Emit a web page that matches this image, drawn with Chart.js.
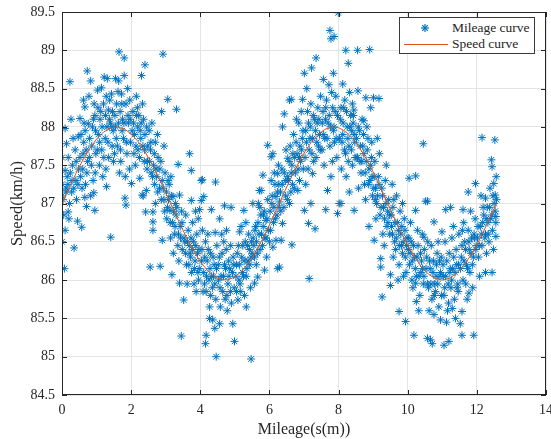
<!DOCTYPE html>
<html lang="en">
<head>
  <meta charset="UTF-8" />
  <title>Speed vs mileage</title>
  <script src="https://cdn.jsdelivr.net/npm/chart.js"></script>
  <style>
    * { box-sizing: border-box; margin: 0; padding: 0; }
    body { background: #fff; }
    .wrap { position: relative; width: 551px; height: 439px; }
    .legend {
      position: absolute;
      left: 399px; top: 17px;
      width: 136px; height: 37px;
      border: 1px solid #3a3a3a;
      background: #fff;
      font-family: "Liberation Serif", serif;
      font-size: 13.5px;
      color: #262626;
    }
    .legend .row { position: absolute; left: 0; height: 16px; display: flex; align-items: center; }
    .legend .row span { position: absolute; left: 52px; white-space: nowrap; }
    .legend svg { position: absolute; left: 4px; }
  </style>
</head>
<body>
  <div class="wrap">
    <canvas id="chart" width="551" height="439"></canvas>
    <div class="legend">
      <div class="row" style="top:2px">
        <svg width="46" height="16"><g stroke="#0072BD" stroke-width="1.2">
          <line x1="21" y1="4" x2="21" y2="12"/><line x1="17" y1="8" x2="25" y2="8"/>
          <line x1="18.2" y1="5.2" x2="23.8" y2="10.8"/><line x1="18.2" y1="10.8" x2="23.8" y2="5.2"/>
        </g></svg>
        <span>Mileage curve</span>
      </div>
      <div class="row" style="top:18px">
        <svg width="46" height="16"><line x1="0" y1="8.5" x2="44" y2="8.5" stroke="#D95319" stroke-width="1"/></svg>
        <span>Speed curve</span>
      </div>
    </div>
  </div>

  <script>
    // measured samples [mileage, speed]
    const samples = [
      [0.00,87.60],[0.00,87.25],[0.00,87.10],[0.00,86.50],[0.07,86.15],[0.09,87.98],[0.13,87.78],[0.18,87.60],[0.09,87.43],[0.28,87.15],
      [0.18,86.89],[0.09,86.65],[0.35,86.42],[0.23,88.59],[0.45,86.77],[0.47,87.87],[0.30,87.50],[0.40,87.30],[0.22,87.00],[0.15,87.35],
      [0.38,87.70],[0.05,86.85],[0.32,87.85],[0.42,87.05],[0.26,88.10],[0.12,87.20],[0.48,87.45],
      [0.03,87.05],[0.11,87.15],[0.17,87.25],[0.24,87.40],[0.29,87.30],[0.34,87.20],[0.41,87.55],[0.46,87.25],[0.20,86.80],
      [0.52,88.11],[0.62,88.35],[0.66,88.26],[0.73,88.73],[0.83,88.60],[0.76,88.04],[0.95,88.15],[0.52,87.60],[0.66,87.08],[0.71,86.96],
      [0.95,86.91],[0.92,87.14],[0.57,86.69],[0.55,87.90],[0.60,87.45],[0.70,87.70],[0.80,87.85],[0.85,87.50],[0.90,87.30],[0.68,87.25],
      [0.78,88.40],[0.88,88.00],[0.98,87.65],[0.58,87.20],[0.63,87.80],[0.74,87.55],[0.93,88.30],[0.83,87.10],[0.97,87.95],
      [0.54,87.35],[0.61,87.65],[0.67,87.95],[0.72,87.40],[0.79,87.60],[0.86,87.75],[0.91,88.10],[0.96,87.40],[0.64,88.05],
      [1.03,88.48],[1.14,88.51],[1.31,88.63],[1.43,88.43],[1.29,87.22],[1.41,86.56],[1.34,88.22],[1.05,87.90],[1.10,88.10],[1.15,87.70],
      [1.20,88.30],[1.25,87.85],[1.30,88.00],[1.35,87.60],[1.40,88.05],[1.45,87.75],[1.08,87.50],[1.18,87.35],[1.22,88.65],[1.38,88.35],
      [1.48,87.95],[1.12,88.20],[1.27,87.45],[1.46,88.20],[1.02,87.70],
      [1.04,88.25],[1.09,87.80],[1.16,88.00],[1.21,87.60],[1.26,88.15],[1.33,87.80],[1.37,88.10],[1.44,88.00],[1.49,87.55],[1.28,88.40],
      [1.55,88.63],[1.62,88.46],[1.65,88.98],[1.72,88.43],[1.80,88.90],[1.80,88.67],[1.96,88.35],[1.82,87.07],[1.85,86.98],[1.55,88.00],
      [1.60,87.75],[1.68,88.20],[1.70,87.55],[1.75,88.10],[1.78,87.85],[1.85,88.30],[1.88,87.65],[1.92,88.05],[1.95,87.45],[1.98,87.80],
      [1.58,88.30],[1.66,87.40],[1.74,87.95],[1.90,88.50],[1.52,87.65],[1.83,87.35],
      [1.53,88.15],[1.57,87.85],[1.63,88.05],[1.69,87.70],[1.73,88.30],[1.79,88.05],[1.86,87.80],[1.91,88.15],[1.97,88.10],[1.64,88.60],
      [2.01,87.26],[2.25,87.33],[2.32,87.11],[2.30,88.67],[2.40,88.81],[2.44,87.17],[2.35,87.10],[2.42,86.89],[2.05,88.20],[2.10,87.90],
      [2.15,88.40],[2.20,87.70],[2.22,88.15],[2.28,87.85],[2.33,88.30],[2.38,87.55],[2.45,88.00],[2.48,87.75],[2.12,87.50],[2.18,88.25],
      [2.26,87.95],[2.36,88.10],[2.08,87.65],[2.46,87.45],[2.40,87.90],
      [2.03,87.95],[2.07,88.05],[2.14,87.75],[2.19,88.00],[2.24,87.60],[2.29,88.05],[2.34,87.75],[2.39,87.70],[2.47,87.55],[2.16,88.15],
      [2.92,88.95],[2.88,88.20],[2.63,86.89],[2.63,86.76],[2.63,86.65],[2.90,86.52],[2.55,86.17],[2.84,86.18],[2.52,87.95],[2.56,87.70],
      [2.60,88.05],[2.65,87.50],[2.70,87.80],[2.74,87.35],[2.78,87.60],[2.82,87.20],[2.86,87.55],[2.90,87.30],[2.95,87.05],[2.98,87.40],
      [2.58,87.40],[2.68,87.25],[2.76,87.90],[2.95,87.75],[2.70,87.00],
      [2.53,87.55],[2.57,87.80],[2.62,87.35],[2.67,87.65],[2.72,87.45],[2.77,87.15],[2.83,87.45],[2.87,87.05],[2.93,87.20],[2.97,86.90],
      [3.06,88.36],[3.31,88.23],[3.07,87.30],[3.36,87.51],[3.21,87.09],[3.12,86.91],[3.40,87.11],[3.18,86.07],[3.40,85.96],[3.45,85.27],
      [3.02,87.15],[3.05,86.95],[3.10,87.25],[3.15,87.35],[3.20,86.75],[3.25,86.60],[3.30,86.85],[3.35,86.45],[3.42,86.70],[3.48,86.40],
      [3.14,86.55],[3.28,87.00],[3.38,86.25],[3.46,86.90],[3.22,86.35],
      [3.03,86.80],[3.08,87.05],[3.13,86.75],[3.17,87.10],[3.23,86.90],[3.27,86.70],[3.32,86.95],[3.37,86.60],[3.43,86.55],[3.47,86.75],
      [3.52,85.74],[3.69,87.65],[3.74,87.43],[3.74,87.04],[3.98,86.92],[3.94,86.80],[3.88,85.85],[3.55,86.50],[3.60,86.20],[3.65,86.65],
      [3.70,86.35],[3.75,86.10],[3.80,86.50],[3.85,86.25],[3.90,86.60],[3.95,86.00],[3.58,86.85],[3.62,85.95],[3.68,86.45],[3.78,86.75],
      [3.82,85.95],[3.92,86.35],[3.97,86.15],[3.86,86.90],[3.72,86.30],
      [3.53,86.55],[3.57,86.35],[3.63,86.50],[3.67,86.20],[3.73,86.55],[3.77,86.40],[3.83,86.15],[3.87,86.45],[3.93,86.10],[3.96,86.40],
      [4.03,87.30],[4.06,87.31],[4.03,87.04],[4.10,87.09],[4.32,86.92],[4.44,87.28],[4.17,85.85],[4.27,85.65],[4.27,85.50],[4.42,85.37],
      [4.15,85.17],[4.46,85.00],[4.36,85.48],[4.17,85.28],[4.06,86.65],[4.43,86.62],[4.05,86.40],[4.10,86.10],[4.15,86.50],[4.20,86.25],
      [4.25,86.00],[4.30,86.35],[4.35,85.90],[4.40,86.20],[4.45,85.75],[4.48,86.45],[4.12,85.95],[4.22,86.60],[4.38,86.05],[4.30,85.80],
      [4.04,86.25],[4.08,85.85],[4.13,86.30],[4.18,86.05],[4.23,86.40],[4.28,86.15],[4.33,86.05],[4.37,86.30],[4.42,85.95],[4.47,86.15],
      [4.56,86.80],[4.70,86.97],[4.89,86.95],[4.76,86.65],[4.56,85.43],[4.94,85.43],[4.99,85.20],[4.55,86.30],[4.60,86.05],[4.65,85.85],
      [4.70,86.20],[4.75,86.40],[4.80,85.95],[4.85,86.15],[4.90,85.70],[4.95,86.30],[4.58,85.65],[4.68,86.50],[4.78,85.60],[4.88,86.45],
      [4.62,86.60],[4.72,85.75],[4.82,86.25],[4.98,85.90],[4.53,86.00],
      [4.52,86.20],[4.57,85.90],[4.63,86.35],[4.67,86.05],[4.73,86.15],[4.77,85.80],[4.83,86.05],[4.87,85.85],[4.93,86.10],[4.97,86.20],
      [5.14,86.63],[5.26,86.91],[5.09,85.74],[5.33,85.65],[5.47,84.97],[5.05,86.20],[5.10,86.45],[5.15,85.95],[5.20,86.30],[5.25,86.05],
      [5.30,86.50],[5.35,86.15],[5.40,86.60],[5.45,85.90],[5.50,86.35],[5.05,85.85],[5.18,86.70],[5.28,85.80],[5.38,86.25],[5.48,86.50],
      [5.22,86.10],[5.42,86.40],[5.12,86.00],[5.32,86.75],
      [5.03,86.05],[5.07,86.35],[5.13,86.20],[5.17,85.85],[5.23,86.45],[5.27,86.25],[5.33,86.05],[5.37,86.45],[5.43,86.20],[5.47,86.30],
      [5.52,87.00],[5.71,87.17],[5.76,87.17],[5.81,87.37],[5.95,87.76],[5.90,86.78],[6.00,86.50],[5.66,86.04],[5.86,86.13],[5.57,85.96],
      [5.55,86.45],[5.60,86.70],[5.65,86.35],[5.70,86.60],[5.75,86.85],[5.80,86.45],[5.85,86.90],[5.90,86.55],[5.95,87.05],[5.62,86.20],
      [5.72,86.95],[5.82,86.70],[5.92,86.30],[5.58,86.65],[5.68,87.00],
      [5.53,86.55],[5.57,86.30],[5.63,86.50],[5.67,86.75],[5.73,86.40],[5.77,86.60],[5.83,86.85],[5.87,86.55],[5.93,86.80],[5.97,86.65],
      [6.05,87.61],[6.38,88.00],[6.43,88.17],[6.24,87.39],[6.29,87.02],[6.29,86.17],[6.19,86.52],[6.10,87.65],[6.05,87.30],[6.19,87.09],
      [6.38,86.74],[6.34,86.52],[6.10,86.43],[6.24,86.15],[6.02,86.90],[6.08,87.10],[6.12,86.75],[6.16,87.25],[6.22,86.85],[6.26,87.50],
      [6.32,87.15],[6.36,87.45],[6.42,86.95],[6.46,87.30],[6.48,87.70],[6.28,86.95],[6.14,87.40],
      [6.03,86.65],[6.07,87.00],[6.13,86.95],[6.17,86.80],[6.23,87.15],[6.27,87.25],[6.33,86.90],[6.37,87.25],[6.43,87.40],[6.47,87.10],
      [6.58,88.35],[6.53,87.59],[6.63,88.36],[6.96,88.36],[6.58,87.00],[6.65,86.46],[6.87,87.30],[6.82,87.17],[6.55,87.30],[6.60,87.75],
      [6.65,87.50],[6.70,87.90],[6.75,87.40],[6.80,87.65],[6.85,88.05],[6.90,87.55],[6.95,87.85],[6.52,87.05],[6.62,87.15],[6.72,87.20],
      [6.78,88.10],[6.88,87.75],[6.98,87.45],[6.68,87.65],[6.92,88.20],
      [6.53,87.35],[6.57,87.55],[6.63,87.40],[6.67,87.25],[6.73,87.60],[6.77,87.80],[6.83,87.45],[6.87,87.60],[6.93,87.70],[6.97,87.95],
      [7.01,88.70],[7.08,88.50],[7.35,88.90],[7.22,88.77],[7.15,86.02],[7.13,86.74],[7.32,86.67],[7.01,86.91],[7.20,87.00],[7.25,87.39],
      [7.05,87.95],[7.10,88.20],[7.15,87.70],[7.20,88.30],[7.25,87.85],[7.30,88.10],[7.35,87.60],[7.40,88.25],[7.45,87.90],[7.48,88.40],
      [7.12,87.45],[7.28,87.55],[7.38,88.05],[7.42,87.75],[7.18,88.00],[7.05,87.25],
      [7.03,87.60],[7.07,87.80],[7.13,88.05],[7.17,87.85],[7.23,87.65],[7.27,88.15],[7.33,87.95],[7.37,87.80],[7.43,88.10],[7.47,87.70],
      [7.56,88.62],[7.85,88.70],[7.75,89.26],[7.78,89.15],[7.87,89.18],[7.99,89.49],[7.63,86.92],[7.97,86.87],[7.68,87.17],[7.78,87.35],
      [7.55,88.20],[7.60,87.85],[7.65,88.35],[7.70,88.05],[7.75,87.75],[7.80,88.45],[7.85,87.95],[7.90,88.20],[7.95,87.60],[7.58,87.50],
      [7.72,88.55],[7.82,87.55],[7.92,88.40],[7.62,88.10],[7.88,87.80],[7.52,87.70],
      [7.53,88.05],[7.57,87.90],[7.63,88.25],[7.67,87.85],[7.73,88.15],[7.77,88.00],[7.83,88.25],[7.87,88.00],[7.93,87.85],[7.97,88.15],
      [8.21,89.00],[8.28,88.83],[8.12,88.56],[8.02,87.00],[8.45,86.91],[8.31,87.15],[8.07,87.00],[8.44,88.22],[8.40,88.30],[8.05,88.10],
      [8.10,87.80],[8.15,88.25],[8.20,87.65],[8.25,88.00],[8.30,87.75],[8.35,88.15],[8.40,87.50],[8.45,87.90],[8.48,87.60],[8.08,87.45],
      [8.18,88.35],[8.22,87.35],[8.32,88.45],[8.38,87.95],[8.12,87.90],[8.28,87.55],[8.42,88.05],
      [8.03,87.85],[8.07,88.25],[8.13,88.05],[8.17,87.70],[8.23,88.20],[8.27,87.85],[8.33,88.00],[8.37,87.70],[8.43,88.15],[8.47,87.80],
      [8.55,89.00],[8.90,89.01],[8.56,88.47],[8.79,88.38],[8.93,88.25],[8.73,88.08],[8.88,86.70],[8.52,87.85],[8.55,87.60],[8.60,87.95],
      [8.65,87.40],[8.70,87.75],[8.75,87.25],[8.80,87.55],[8.85,87.85],[8.90,87.30],[8.95,87.60],[8.98,87.10],[8.58,87.20],[8.68,88.10],
      [8.78,87.05],[8.88,87.45],[8.62,87.55],[8.72,87.90],[8.82,88.00],[8.96,87.80],
      [8.53,87.60],[8.57,88.00],[8.63,87.75],[8.67,87.55],[8.73,87.65],[8.77,87.40],[8.83,87.70],[8.87,87.25],[8.93,87.50],[8.97,87.35],
      [9.01,88.38],[9.17,88.37],[9.03,86.52],[9.22,86.28],[9.22,86.17],[9.26,85.78],[9.02,87.20],[9.05,87.55],[9.10,87.00],[9.15,87.35],
      [9.20,86.85],[9.25,87.20],[9.30,86.95],[9.35,87.30],[9.40,86.70],[9.45,87.05],[9.48,86.60],[9.08,86.80],[9.18,87.65],[9.28,86.60],
      [9.38,87.50],[9.12,87.85],[9.32,86.45],[9.42,86.90],[9.06,87.05],
      [9.03,87.35],[9.07,87.20],[9.13,87.10],[9.17,87.25],[9.23,86.95],[9.27,87.10],[9.33,86.80],[9.37,87.00],[9.43,86.75],[9.47,86.85],
      [9.50,86.07],[9.50,85.93],[9.75,85.59],[9.94,85.46],[9.52,86.85],[9.56,86.60],[9.60,87.05],[9.65,86.40],[9.70,86.75],[9.75,86.20],
      [9.80,86.60],[9.85,86.35],[9.90,86.80],[9.95,86.10],[9.98,86.55],[9.58,86.30],[9.68,87.10],[9.78,86.90],[9.88,86.05],[9.62,86.50],
      [9.72,86.00],[9.82,86.45],[9.92,86.65],[9.55,87.25],[9.85,87.00],
      [9.53,86.70],[9.57,86.95],[9.63,86.75],[9.67,86.55],[9.73,86.65],[9.77,86.45],[9.83,86.70],[9.87,86.50],[9.93,86.30],[9.97,86.45],
      [10.04,87.33],[10.23,87.36],[10.45,87.78],[10.23,86.91],[10.47,86.56],[10.18,85.28],[10.25,85.72],[10.23,85.96],[10.05,86.20],[10.10,86.50],
      [10.15,85.90],[10.20,86.30],[10.25,86.05],[10.30,86.45],[10.35,85.80],[10.40,86.25],[10.45,85.95],[10.48,86.40],[10.08,86.75],[10.28,86.65],
      [10.38,86.10],[10.12,86.00],[10.32,85.60],[10.42,86.60],[10.02,86.40],
      [10.03,86.55],[10.07,86.35],[10.13,86.25],[10.17,86.45],[10.22,86.15],[10.27,86.30],[10.33,86.05],[10.37,86.35],[10.43,86.15],[10.47,86.05],
      [10.52,87.03],[10.57,87.03],[10.57,85.24],[10.76,86.76],[10.66,85.22],[10.71,85.17],[10.95,85.48],[10.76,85.55],[10.99,86.63],[10.55,86.30],
      [10.60,85.90],[10.65,86.15],[10.70,85.75],[10.75,86.25],[10.80,85.85],[10.85,86.35],[10.90,85.65],[10.95,86.10],[10.58,86.50],[10.68,86.45],
      [10.78,85.95],[10.88,86.50],[10.98,85.80],[10.62,85.60],[10.82,86.05],[10.92,86.25],
      [10.53,86.15],[10.57,85.95],[10.63,86.25],[10.67,85.95],[10.73,86.10],[10.77,85.80],[10.83,86.20],[10.87,85.95],[10.93,86.05],[10.97,86.30],
      [11.10,86.92],[11.24,86.95],[11.05,85.15],[11.19,85.20],[11.29,85.63],[11.02,86.20],[11.05,85.80],[11.10,86.05],[11.15,85.60],[11.20,86.35],
      [11.25,85.90],[11.30,86.15],[11.35,85.75],[11.40,86.40],[11.45,85.95],[11.48,86.60],[11.08,86.50],[11.18,85.70],[11.28,86.55],[11.38,85.50],
      [11.12,85.45],[11.32,86.70],[11.42,86.20],[11.22,86.10],[11.46,85.85],
      [11.03,86.05],[11.07,85.90],[11.13,86.25],[11.17,85.95],[11.23,86.15],[11.27,86.00],[11.33,86.30],[11.37,86.10],[11.43,85.90],[11.47,86.20],
      [11.57,85.28],[11.91,85.28],[11.52,85.43],[11.57,85.59],[11.77,85.83],[11.75,87.15],[11.96,87.26],[11.60,86.92],[11.55,86.30],[11.60,86.00],
      [11.65,86.50],[11.70,86.20],[11.75,86.65],[11.80,86.10],[11.85,86.55],[11.90,86.30],[11.95,86.80],[11.58,86.65],[11.68,85.95],[11.78,86.40],
      [11.88,85.90],[11.98,86.45],[11.62,86.75],[11.82,86.90],[11.72,85.75],[11.92,86.60],
      [11.53,86.15],[11.57,86.45],[11.63,86.25],[11.67,86.40],[11.73,86.15],[11.77,86.50],[11.83,86.35],[11.87,86.20],[11.93,86.55],[11.97,86.40],
      [12.15,87.86],[12.52,87.83],[12.42,87.57],[12.44,87.48],[12.49,87.26],[12.55,86.83],[12.25,87.07],[12.53,87.11],[12.25,86.10],[12.44,86.10],
      [12.55,86.57],[12.02,86.55],[12.05,86.30],[12.10,86.70],[12.15,86.45],[12.20,86.85],[12.25,86.60],[12.30,86.95],[12.35,86.50],[12.40,86.80],
      [12.45,86.65],[12.50,87.00],[12.55,86.75],[12.08,86.05],[12.18,86.95],[12.28,86.35],[12.38,87.20],[12.48,86.40],[12.12,87.10],[12.32,86.75],
      [12.56,87.35],
      [12.03,86.70],[12.07,86.45],[12.13,86.60],[12.17,86.75],[12.23,86.55],[12.27,86.80],[12.33,86.60],[12.37,86.95],[12.43,86.85],[12.47,87.10],
      [12.53,86.90],[12.57,87.05]
    ];

    // fitted speed curve
    const curveMileage = [0, 0.2, 0.4, 0.6, 0.8, 1.0, 1.2, 1.4, 1.6, 1.8, 2.0, 2.2, 2.4, 2.6, 2.8, 3.0, 3.2, 3.4, 3.6, 3.8,
      4.0, 4.2, 4.4, 4.6, 4.8, 5.0, 5.2, 5.4, 5.6, 5.8, 6.0, 6.2, 6.4, 6.6, 6.8, 7.0, 7.2, 7.4, 7.6, 7.8,
      8.0, 8.2, 8.4, 8.6, 8.8, 9.0, 9.2, 9.4, 9.6, 9.8, 10.0, 10.2, 10.4, 10.6, 10.8, 11.0, 11.2, 11.4, 11.6, 11.8,
      12.0, 12.2, 12.4, 12.57];
    const curveSpeed = [87.000, 87.199, 87.389, 87.565, 87.717, 87.841, 87.932, 87.985, 88.000, 87.974,
      87.909, 87.809, 87.676, 87.516, 87.335, 87.141, 86.942, 86.745, 86.558, 86.388,
      86.243, 86.128, 86.048, 86.006, 86.004, 86.041, 86.117, 86.227, 86.369, 86.535,
      86.721, 86.917, 87.117, 87.312, 87.494, 87.657, 87.794, 87.899, 87.968, 87.999,
      87.989, 87.941, 87.855, 87.734, 87.585, 87.412, 87.223, 87.025, 86.826, 86.634,
      86.456, 86.300, 86.172, 86.077, 86.019, 86.000, 86.021, 86.081, 86.177, 86.307,
      86.463, 86.642, 86.834, 87.000];

    const xTicks = [0, 2, 4, 6, 8, 10, 12, 14];
    const yTicks = [84.5, 85, 85.5, 86, 86.5, 87, 87.5, 88, 88.5, 89, 89.5];

    const axisColor = '#262626';
    const serif = '"Liberation Serif", "Times New Roman", serif';

    // box round the axes + inward tick marks (matlab look)
    const frame = {
      id: 'frame',
      afterDatasetsDraw(chart) {
        const { ctx, chartArea: a, scales: { x, y } } = chart;
        ctx.save();
        ctx.strokeStyle = axisColor;
        ctx.lineWidth = 1;
        ctx.beginPath();
        x.ticks.forEach(t => {
          const px = Math.round(x.getPixelForValue(t.value)) + 0.5;
          ctx.moveTo(px, a.bottom); ctx.lineTo(px, a.bottom - 5);
          ctx.moveTo(px, a.top); ctx.lineTo(px, a.top + 5);
        });
        y.ticks.forEach(t => {
          const py = Math.round(y.getPixelForValue(t.value)) + 0.5;
          ctx.moveTo(a.left, py); ctx.lineTo(a.left + 5, py);
          ctx.moveTo(a.right, py); ctx.lineTo(a.right - 5, py);
        });
        ctx.stroke();
        ctx.strokeRect(Math.round(a.left) + 0.5, Math.round(a.top) + 0.5,
          Math.round(a.width) - 1, Math.round(a.height) - 1);
        ctx.restore();
      }
    };

    new Chart(document.getElementById('chart'), {
      type: 'scatter',
      data: {
        datasets: [{
          label: 'Speed curve',
          type: 'line',
          data: curveMileage.map((m, i) => ({ x: m, y: curveSpeed[i] })),
          borderColor: '#D95319',
          borderWidth: 1,
          pointRadius: 0,
          tension: 0,
          fill: false,
          order: 0
        }, {
          label: 'Mileage curve',
          data: samples.map(p => ({ x: p[0], y: p[1] })),
          pointStyle: 'star',
          pointRadius: 4,
          borderColor: '#0072BD',
          backgroundColor: '#0072BD',
          pointBorderWidth: 1,
          order: 1
        }]
      },
      options: {
        responsive: false,
        animation: false,
        layout: { padding: { top: 12, right: 4, left: 0, bottom: 0 } },
        plugins: { legend: { display: false }, tooltip: { enabled: false } },
        scales: {
          x: {
            type: 'linear',
            min: 0, max: 14,
            afterBuildTicks: s => { s.ticks = xTicks.map(v => ({ value: v })); },
            afterFit: s => { s.height = 44; s.paddingLeft = 0; s.paddingRight = 0; },
            grid: { color: '#e4e4e4', drawTicks: false },
            border: { display: false },
            ticks: { color: axisColor, font: { family: serif, size: 14 }, padding: 7, maxRotation: 0,
              callback: v => String(v) },
            title: { display: true, text: 'Mileage(s(m))', color: axisColor, font: { family: serif, size: 16 }, padding: { top: 0, bottom: 0 } }
          },
          y: {
            type: 'linear',
            min: 84.5, max: 89.5,
            afterBuildTicks: s => { s.ticks = yTicks.map(v => ({ value: v })); },
            afterFit: s => { s.width = 62; s.paddingTop = 0; s.paddingBottom = 0; },
            grid: { color: '#e4e4e4', drawTicks: false },
            border: { display: false },
            ticks: { color: axisColor, font: { family: serif, size: 14 }, padding: 7,
              callback: v => String(v) },
            title: { display: true, text: 'Speed(km/h)', color: axisColor, font: { family: serif, size: 16.5 }, padding: { top: 8, bottom: 0 } }
          }
        }
      },
      plugins: [frame]
    });
  </script>
</body>
</html>
